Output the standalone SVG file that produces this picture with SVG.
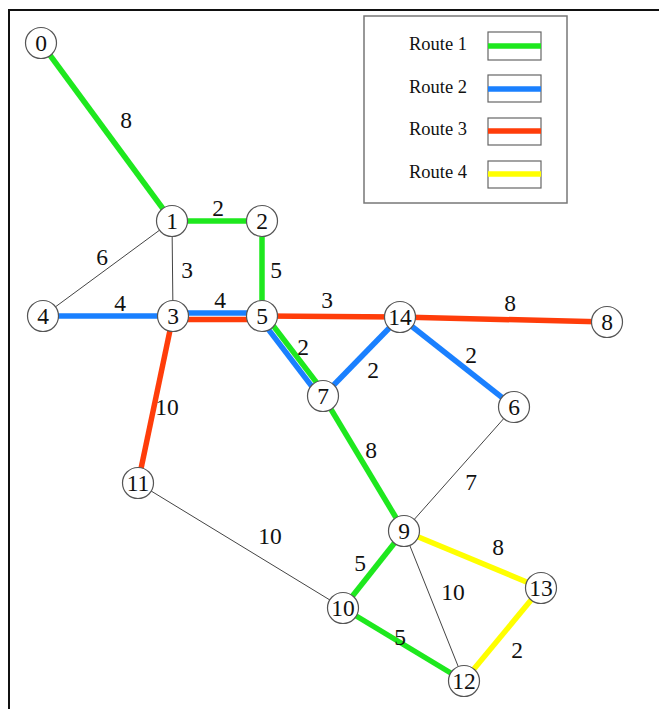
<svg xmlns="http://www.w3.org/2000/svg" width="659" height="709" viewBox="0 0 659 709">
<style>
.bg{fill:#fff}
.frame{fill:none;stroke:#111;stroke-width:2}
.thin{stroke:#444;stroke-width:1;fill:none}
.g{stroke:#1ee81e;stroke-width:5.5;fill:none}
.b{stroke:#1a80ff;stroke-width:5.5;fill:none}
.r{stroke:#ff3d0a;stroke-width:5.5;fill:none}
.y{stroke:#ffff00;stroke-width:5.5;fill:none}
.node circle{fill:#fff;stroke:#555;stroke-width:1.2}
text{font-family:"Liberation Serif","Times New Roman",serif;fill:#111}
.nl{font-size:23.5px;text-anchor:middle;dominant-baseline:central}
.el{font-size:23.5px;text-anchor:middle;dominant-baseline:central}
.lg{font-size:18.5px}
.legbox{fill:#fff;stroke:#777;stroke-width:1.5}
.sw{fill:#fff;stroke:#666;stroke-width:1.2}
</style>
<rect class="bg" x="0" y="0" width="659" height="709"/>
<rect class="frame" x="9" y="10" width="700" height="720"/>

<g id="legend">
<rect class="legbox" x="364" y="16" width="203" height="187"/>
<text class="lg" x="409" y="50">Route 1</text>
<rect class="sw" x="488" y="32" width="53" height="28"/>
<line class="g" x1="488" y1="46" x2="541" y2="46"/>
<text class="lg" x="409" y="93">Route 2</text>
<rect class="sw" x="488" y="75" width="53" height="27"/>
<line class="b" x1="488" y1="89" x2="541" y2="89"/>
<text class="lg" x="409" y="135">Route 3</text>
<rect class="sw" x="488" y="118" width="53" height="27"/>
<line class="r" x1="488" y1="131" x2="541" y2="131"/>
<text class="lg" x="409" y="178">Route 4</text>
<rect class="sw" x="488" y="161" width="53" height="27"/>
<line class="y" x1="488" y1="174" x2="541" y2="174"/>
</g>

<g id="connectors">
<line class="thin" x1="172" y1="221" x2="43" y2="316"/>
<line class="thin" x1="172" y1="221" x2="173" y2="316"/>
<line class="thin" x1="514" y1="407" x2="404" y2="531"/>
<line class="thin" x1="138" y1="483" x2="343" y2="608"/>
<line class="thin" x1="404" y1="531" x2="464" y2="681"/>
<line class="g" x1="41" y1="43" x2="172" y2="221"/>
<line class="g" x1="172" y1="221" x2="262" y2="221"/>
<line class="g" x1="262" y1="221" x2="262" y2="316"/>
<line class="b" x1="43" y1="316" x2="173" y2="316"/>
<line class="b" x1="173" y1="313" x2="262" y2="313"/>
<line class="r" x1="173" y1="319.5" x2="262" y2="319.5"/>
<line class="r" x1="262" y1="316" x2="400" y2="317"/>
<line class="r" x1="400" y1="317" x2="607" y2="322"/>
<line class="r" x1="173" y1="316" x2="138" y2="483"/>
<line class="g" x1="264.4" y1="314.2" x2="325.4" y2="394.2"/>
<line class="b" x1="259.6" y1="317.8" x2="320.6" y2="397.8"/>
<line class="b" x1="323" y1="396" x2="400" y2="317"/>
<line class="b" x1="400" y1="317" x2="514" y2="407"/>
<line class="g" x1="323" y1="396" x2="404" y2="531"/>
<line class="g" x1="404" y1="531" x2="343" y2="608"/>
<line class="g" x1="343" y1="608" x2="464" y2="681"/>
<line class="y" x1="404" y1="531" x2="541" y2="588"/>
<line class="y" x1="541" y1="588" x2="464" y2="681"/>
</g>

<g id="edge-labels">
<text class="el" x="126" y="120">8</text>
<text class="el" x="218" y="208">2</text>
<text class="el" x="102" y="257">6</text>
<text class="el" x="187" y="270">3</text>
<text class="el" x="276" y="270">5</text>
<text class="el" x="120" y="303">4</text>
<text class="el" x="220" y="300">4</text>
<text class="el" x="327" y="300">3</text>
<text class="el" x="510" y="303">8</text>
<text class="el" x="303" y="347">2</text>
<text class="el" x="373" y="370">2</text>
<text class="el" x="471" y="355">2</text>
<text class="el" x="167" y="407">10</text>
<text class="el" x="371" y="450">8</text>
<text class="el" x="471" y="482">7</text>
<text class="el" x="270" y="536">10</text>
<text class="el" x="360" y="563">5</text>
<text class="el" x="498" y="547">8</text>
<text class="el" x="453" y="592">10</text>
<text class="el" x="400" y="637">5</text>
<text class="el" x="517" y="650">2</text>
</g>

<g id="node-0" class="node"><circle cx="41" cy="43" r="15.5"/><text class="nl" x="41" y="43">0</text></g>
<g id="node-1" class="node"><circle cx="172" cy="221" r="15.5"/><text class="nl" x="172" y="221">1</text></g>
<g id="node-2" class="node"><circle cx="262" cy="221" r="15.5"/><text class="nl" x="262" y="221">2</text></g>
<g id="node-3" class="node"><circle cx="173" cy="316" r="15.5"/><text class="nl" x="173" y="316">3</text></g>
<g id="node-4" class="node"><circle cx="43" cy="316" r="15.5"/><text class="nl" x="43" y="316">4</text></g>
<g id="node-5" class="node"><circle cx="262" cy="316" r="15.5"/><text class="nl" x="262" y="316">5</text></g>
<g id="node-14" class="node"><circle cx="400" cy="317" r="15.5"/><text class="nl" x="400" y="317">14</text></g>
<g id="node-8" class="node"><circle cx="607" cy="322" r="15.5"/><text class="nl" x="607" y="322">8</text></g>
<g id="node-7" class="node"><circle cx="323" cy="396" r="15.5"/><text class="nl" x="323" y="396">7</text></g>
<g id="node-6" class="node"><circle cx="514" cy="407" r="15.5"/><text class="nl" x="514" y="407">6</text></g>
<g id="node-11" class="node"><circle cx="138" cy="483" r="15.5"/><text class="nl" x="138" y="483">11</text></g>
<g id="node-9" class="node"><circle cx="404" cy="531" r="15.5"/><text class="nl" x="404" y="531">9</text></g>
<g id="node-10" class="node"><circle cx="343" cy="608" r="15.5"/><text class="nl" x="343" y="608">10</text></g>
<g id="node-13" class="node"><circle cx="541" cy="588" r="15.5"/><text class="nl" x="541" y="588">13</text></g>
<g id="node-12" class="node"><circle cx="464" cy="681" r="15.5"/><text class="nl" x="464" y="681">12</text></g>
</svg>
